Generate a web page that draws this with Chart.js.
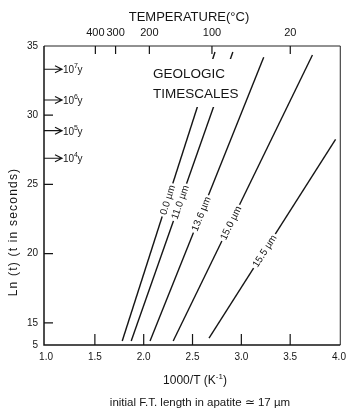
<!DOCTYPE html>
<html><head><meta charset="utf-8">
<script src="https://cdn.jsdelivr.net/npm/chart.js@4/dist/chart.umd.min.js"></script>
<style>html,body{margin:0;padding:0;background:#fff}#wrap{width:352px;height:412px;position:relative}</style>
</head><body><div id="wrap"><canvas id="c" width="352" height="412"></canvas></div>
<script>
// ---- data ----
const xTicks = [1.0, 1.5, 2.0, 2.5, 3.0, 3.5, 4.0];
const yTicks = [15, 20, 25, 30, 35];
const yBreakLabel = '5';            // broken-axis label at the bottom of the Ln(t) axis
const tempLabels = ['400', '300', '200', '100', '20'];
const tempTickX = [1.505, 1.712, 2.058, 2.699, 3.501];
const lengthLabels = ['0.0 µm', '11.0 µm', '13.6 µm', '15.0 µm', '15.5 µm'];
const line00 = [{x: 1.780, y: 13.69}, {x: 2.730, y: 34.57}];
const line110 = [{x: 1.872, y: 13.69}, {x: 2.913, y: 34.57}];
const line136 = [{x: 2.065, y: 13.69}, {x: 3.229, y: 34.18}];
const line150 = [{x: 2.302, y: 13.69}, {x: 3.728, y: 34.35}];
const line155 = [{x: 2.669, y: 13.90}, {x: 3.965, y: 28.26}];
const geoExponents = ['7', '6', '5', '4'];
const geoLnT = [33.32, 31.10, 28.88, 26.89];

const X_MIN = 0.979, X_MAX = 4.013, Y_MIN = 13.40, Y_MAX = 35;
const FONT = '"Liberation Sans", Arial, Helvetica, sans-serif';
const INK = '#151515';
const labelFrac = [0.488, 0.48, 0.448, 0.413, 0.438];

const decor = {
  id: 'decor',
  afterDatasetsDraw(chart) {
    const ctx = chart.ctx, a = chart.chartArea;
    const xs = chart.scales.x, ys = chart.scales.y;
    ctx.save();
    // white block behind GEOLOGIC TIMESCALES (breaks the lines)
    ctx.fillStyle = '#fff';
    ctx.fillRect(150, 59, 92, 48);
    ctx.fillStyle = INK;
    ctx.font = '13.5px ' + FONT;
    ctx.textAlign = 'left'; ctx.textBaseline = 'alphabetic';
    ctx.fillText('GEOLOGIC', 153, 78);
    ctx.fillText('TIMESCALES', 153, 98);

    // labels along lines
    ctx.font = '10px ' + FONT;
    chart.data.datasets.forEach((ds, i) => {
      const m = chart.getDatasetMeta(i).data;
      const p0 = m[0], p1 = m[1];
      const t = labelFrac[i];
      const cx = p0.x + (p1.x - p0.x) * t, cy = p0.y + (p1.y - p0.y) * t;
      const ang = Math.atan2(p1.y - p0.y, p1.x - p0.x);
      ctx.save();
      ctx.translate(cx, cy); ctx.rotate(ang);
      const w = ctx.measureText(ds.label).width;
      ctx.fillStyle = '#fff';
      ctx.fillRect(-w / 2 - 2, -4, w + 4, 8);
      ctx.fillStyle = INK;
      ctx.textAlign = 'center'; ctx.textBaseline = 'middle';
      ctx.fillText(ds.label, 0, 0.5);
      ctx.restore();
    });

    // geologic time arrows
    ctx.strokeStyle = INK; ctx.lineWidth = 1.2; ctx.fillStyle = INK;
    geoLnT.forEach((v, i) => {
      const y = ys.getPixelForValue(v), L = a.left;
      ctx.beginPath();
      ctx.moveTo(L, y); ctx.lineTo(L + 17, y);
      ctx.moveTo(L + 11, y - 3.5); ctx.lineTo(L + 18, y); ctx.lineTo(L + 11, y + 3.5);
      ctx.stroke();
      ctx.textAlign = 'left'; ctx.textBaseline = 'alphabetic';
      ctx.font = '10px ' + FONT;
      ctx.fillText('10', L + 19, y + 4);
      let w = ctx.measureText('10').width;
      ctx.font = '7px ' + FONT;
      ctx.fillText(geoExponents[i], L + 19 + w, y - 1);
      const w2 = ctx.measureText(geoExponents[i]).width;
      ctx.font = '10px ' + FONT;
      ctx.fillText('y', L + 19 + w + w2 - 0.5, y + 4);
    });

    // frame
    ctx.strokeStyle = '#222';
    ctx.lineWidth = 1;
    ctx.beginPath();
    ctx.moveTo(a.left, a.top); ctx.lineTo(a.right, a.top); ctx.lineTo(a.right, a.bottom);
    ctx.stroke();
    ctx.lineWidth = 1.5; ctx.strokeStyle = INK;
    ctx.beginPath();
    ctx.moveTo(a.left, a.top); ctx.lineTo(a.left, a.bottom); ctx.lineTo(a.right, a.bottom);
    ctx.stroke();

    // inward ticks
    ctx.lineWidth = 1.2;
    ctx.beginPath();
    xTicks.forEach(v => {
      const px = xs.getPixelForValue(v);
      if (px > a.left + 3 && px < a.right - 3) { ctx.moveTo(px, a.bottom); ctx.lineTo(px, a.bottom - 11); }
    });
    yTicks.forEach(v => {
      const py = ys.getPixelForValue(v);
      if (py > a.top + 3 && py < a.bottom - 3) { ctx.moveTo(a.left, py); ctx.lineTo(a.left + 9, py); }
    });
    tempTickX.forEach(v => {
      const px = xs.getPixelForValue(v);
      ctx.moveTo(px, a.top); ctx.lineTo(px, a.top + 8);
    });
    ctx.stroke();
    ctx.restore();
  },
  afterDraw(chart) {
    const ctx = chart.ctx;
    ctx.save();
    ctx.fillStyle = INK;
    ctx.textBaseline = 'middle';
    ctx.textAlign = 'center';
    ctx.font = '13px ' + FONT;
    ctx.fillText('TEMPERATURE(°C)', 189, 17);

    // y title
    ctx.save();
    ctx.translate(14, 232); ctx.rotate(-Math.PI / 2);
    ctx.font = '12px ' + FONT;
    ctx.letterSpacing = '1.2px';
    ctx.fillText('Ln (t) (t in seconds)', 0, 0);
    ctx.restore();

    // x title with superscript
    ctx.font = '12px ' + FONT;
    const p1 = '1000/T (K', sup = '-1', p2 = ')';
    const w1 = ctx.measureText(p1).width, w3 = ctx.measureText(p2).width;
    ctx.font = '8px ' + FONT;
    const w2 = ctx.measureText(sup).width;
    let x = 195 - (w1 + w2 + w3) / 2;
    ctx.textAlign = 'left';
    ctx.font = '12px ' + FONT;
    ctx.fillText(p1, x, 381);
    ctx.font = '8px ' + FONT;
    ctx.fillText(sup, x + w1, 377);
    ctx.font = '12px ' + FONT;
    ctx.fillText(p2, x + w1 + w2, 381);

    ctx.textAlign = 'center';
    ctx.font = '11.5px ' + FONT;
    ctx.fillText('initial F.T. length in apatite ≃ 17 µm', 200, 403);
    ctx.restore();
  }
};

const mk = (label, data) => ({label, data, showLine: true, borderColor: INK, borderWidth: 1.4,
  pointRadius: 0, fill: false, tension: 0});

new Chart(document.getElementById('c'), {
  type: 'scatter',
  data: {
    datasets: [
      mk(lengthLabels[0], line00),
      mk(lengthLabels[1], line110),
      mk(lengthLabels[2], line136),
      mk(lengthLabels[3], line150),
      mk(lengthLabels[4], line155)
    ]
  },
  options: {
    responsive: false,
    animation: false,
    devicePixelRatio: 1,
    layout: {padding: {left: 0, top: 0, right: 10, bottom: 0}},
    plugins: {legend: {display: false}, tooltip: {enabled: false}, title: {display: false}},
    scales: {
      x: {
        type: 'linear', position: 'bottom', min: X_MIN, max: X_MAX,
        afterBuildTicks: s => { s.ticks = xTicks.map(v => ({value: v})); },
        afterFit: s => { s.height = 67; },
        grid: {display: false, drawTicks: false}, border: {display: false},
        ticks: {autoSkip: false, maxRotation: 0, padding: 6, color: INK,
          font: {family: FONT, size: 10}, callback: v => Number(v).toFixed(1)}
      },
      xt: {
        type: 'linear', position: 'top', min: X_MIN, max: X_MAX,
        afterBuildTicks: s => { s.ticks = tempTickX.map(v => ({value: v})); },
        afterFit: s => { s.height = 46; },
        grid: {display: false, drawTicks: false}, border: {display: false},
        ticks: {autoSkip: false, maxRotation: 0, padding: 6, color: INK,
          font: {family: FONT, size: 11}, callback: (v, i) => tempLabels[i]}
      },
      y: {
        type: 'linear', position: 'left', min: Y_MIN, max: Y_MAX,
        afterBuildTicks: s => { s.ticks = [Y_MIN, ...yTicks].map(v => ({value: v})); },
        afterFit: s => { s.width = 44; },
        grid: {display: false, drawTicks: false}, border: {display: false},
        ticks: {autoSkip: false, padding: 6, color: INK,
          font: {family: FONT, size: 10}, callback: (v, i) => i === 0 ? yBreakLabel : String(v)}
      }
    }
  },
  plugins: [decor]
});
</script>
</body></html>
